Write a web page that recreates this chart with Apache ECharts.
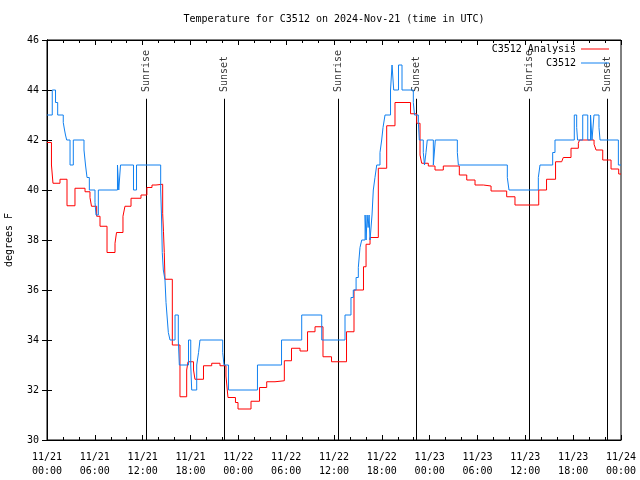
<!DOCTYPE html>
<html><head><meta charset="utf-8">
<script src="https://cdn.jsdelivr.net/npm/echarts@6/dist/echarts.min.js"></script>
<style>html,body{margin:0;padding:0;background:#fff}#c{width:640px;height:480px}</style>
</head><body><div id="c"></div>
<script>
const xTickLabels = ['11/21\n00:00','11/21\n06:00','11/21\n12:00','11/21\n18:00','11/22\n00:00','11/22\n06:00','11/22\n12:00','11/22\n18:00','11/23\n00:00','11/23\n06:00','11/23\n12:00','11/23\n18:00','11/24\n00:00'];

const analysisHours = [0,0.56,0.75,1.63,2.51,3.51,4.77,5.39,5.58,6.23,6.65,7.53,8.53,8.72,9.53,9.78,10.54,11.79,12.53,13.17,13.67,14.51,14.61,14.71,14.8,15.72,16.68,17.52,17.69,18.38,18.56,19.63,20.66,21.7,22.45,22.7,23.64,23.96,25.59,26.66,27.56,28.6,29.77,30.67,31.74,32.68,33.62,34.62,35.69,37.57,38.51,39.7,40.02,40.52,41.56,42.61,43.65,45.6,46.37,46.79,47.0,47.83,48.67,49.71,51.72,52.65,53.69,54.73,55.7,57.66,58.7,61.68,62.66,63.79,64.56,64.76,65.73,66.65,66.8,68.62,68.87,69.71,70.75,71.71,72];
const analysisTemps = [41.9,41.0,40.27,40.43,39.37,40.07,39.93,39.7,39.35,38.95,38.55,37.5,37.87,38.3,38.95,39.35,39.67,39.8,40.1,40.2,40.23,39.07,38.33,37.5,36.43,33.8,31.73,32.8,33.13,32.8,32.43,32.97,33.07,32.97,32.56,31.7,31.5,31.24,31.55,32.1,32.33,32.37,33.17,33.67,33.56,34.33,34.53,33.33,33.13,34.33,36.0,36.93,37.83,38.1,40.87,42.57,43.5,43.05,42.67,41.4,41.07,40.96,40.8,40.96,40.6,40.4,40.2,40.16,39.96,39.73,39.4,40.0,40.43,41.13,41.2,41.3,41.67,41.87,42.0,41.83,41.6,41.2,40.84,40.64,40.64];

const obsHours = [0,0.66,1.07,1.34,2.04,2.2,2.32,2.47,2.89,3.3,4.64,4.83,5.02,5.31,6.02,6.15,6.44,8.84,9.0,9.22,10.85,11.23,14.26,14.36,14.46,14.59,14.8,14.93,15.05,15.22,15.43,16.06,16.47,16.6,17.75,18.03,18.15,18.78,19.01,19.19,22.04,22.2,22.77,26.4,29.42,31.95,34.46,37.38,38.13,38.42,38.77,39.05,39.26,39.48,39.9,40.03,40.15,40.28,40.4,40.52,40.77,40.93,41.14,41.36,41.77,41.98,42.15,42.4,43.09,43.28,43.49,44.09,44.53,45.95,46.1,46.58,46.7,47.2,47.35,47.54,47.7,48.46,48.71,51.47,51.6,57.74,57.95,61.63,61.84,63.43,63.72,66.14,66.44,66.55,67.2,67.83,68.18,68.36,68.61,69.24,69.37,71.67,72];
const obsTemps = [43,44,43.5,43,42.7,42.4,42.2,42,41,42,41.6,41,40.5,40,39.5,39,40,41,40,41,40,41,40,39,37.5,36.8,36.4,35.5,35,34.3,34,35,34,33,34,33,32,33,33.5,34,33.5,33,32,33,34,35,34,35,35.7,36,36.5,36.9,37.7,38,39,38,39,38.5,39,38,39,40,40.5,41,41.5,42,42.5,43,44,45,44,45,44,43.5,43,42.7,42,41.5,41,41.5,42,41,42,41.5,41,40.5,40,40.5,41,41.5,42,43,42.5,42,43,42,43,42,43,42.5,42,41,41];

const sunHours = [12.46, 22.24, 36.54, 46.32, 60.5, 70.28];
const sunNames = ['Sunrise','Sunset','Sunrise','Sunset','Sunrise','Sunset'];

const FONT = "'DejaVu Sans Mono', monospace";
const Y_MIN = 30, Y_MAX = 46, SUN_TOP = 43.65, SUN_LABEL = 43.92;
const LEGEND_ICON = 'path://M0,0 L28,0 L28,1 L0,1 Z';

const zip = (a, b) => a.map((v, i) => [v, b[i]]);

const axisCommon = {
  axisLine: {show: true, lineStyle: {color: '#000', width: 1}},
  axisTick: {show: true, inside: true, length: 5, lineStyle: {color: '#000'}},
  splitLine: {show: false}
};

const chart = echarts.init(document.getElementById('c'), null, {renderer: 'canvas'});
chart.setOption({
  animation: false,
  backgroundColor: '#fff',
  title: {
    text: 'Temperature for C3512 on 2024-Nov-21 (time in UTC)',
    left: 334, top: 14, textAlign: 'center', padding: 0,
    textStyle: {fontFamily: FONT, fontSize: 10, fontWeight: 'normal', color: '#000'}
  },
  legend: {
    data: [{name: 'C3512 Analysis', icon: LEGEND_ICON}, {name: 'C3512', icon: LEGEND_ICON}],
    orient: 'vertical', right: 31, top: 44, padding: 0,
    align: 'right', itemWidth: 28, itemHeight: 10, itemGap: 4,
    textStyle: {fontFamily: FONT, fontSize: 10, color: '#000'}
  },
  grid: {left: 47, right: 19, top: 40, bottom: 40, show: true, borderColor: '#000', borderWidth: 1,
    containLabel: false, outerBoundsMode: 'none'},
  xAxis: [
    Object.assign({}, axisCommon, {
      type: 'value', min: 0, max: 72, interval: 6, position: 'bottom',
      minorTick: {show: true, splitNumber: 3, length: 3, lineStyle: {color: '#000'}},
      axisLabel: {formatter: v => xTickLabels[Math.round(v / 6)], fontFamily: FONT, fontSize: 10, color: '#000', margin: 10, lineHeight: 14}
    }),
    Object.assign({}, axisCommon, {
      type: 'value', min: 0, max: 72, interval: 6, position: 'top',
      minorTick: {show: true, splitNumber: 3, length: 3, lineStyle: {color: '#000'}},
      axisLabel: {show: false}
    })
  ],
  yAxis: [
    Object.assign({}, axisCommon, {
      type: 'value', min: Y_MIN, max: Y_MAX, interval: 2, position: 'left',
      name: 'degrees F', nameLocation: 'middle', nameRotate: 90, nameGap: 33,
      nameTextStyle: {fontFamily: FONT, fontSize: 10, color: '#000'},
      axisLabel: {fontFamily: FONT, fontSize: 10, color: '#000', margin: 8}
    }),
    Object.assign({}, axisCommon, {
      type: 'value', min: Y_MIN, max: Y_MAX, interval: 2, position: 'right',
      axisLabel: {show: false}
    })
  ],
  series: [
    {
      name: 'sunlines', type: 'lines', coordinateSystem: 'cartesian2d', xAxisIndex: 0, yAxisIndex: 0,
      silent: true,
      lineStyle: {color: '#000', width: 1, opacity: 1},
      data: sunHours.map(h => ({coords: [[h, Y_MIN], [h, SUN_TOP]]}))
    },
    {
      name: 'sunlabels', type: 'scatter', xAxisIndex: 0, yAxisIndex: 0,
      symbolSize: 0, silent: true,
      data: sunHours.map((h, i) => ({value: [h, SUN_LABEL], name: sunNames[i]})),
      label: {show: true, position: 'inside', rotate: 90, align: 'left', verticalAlign: 'middle',
        formatter: p => p.name, fontFamily: FONT, fontSize: 10, color: '#000'}
    },
    {
      name: 'C3512 Analysis', type: 'line', step: 'end', symbol: 'none',
      xAxisIndex: 0, yAxisIndex: 0,
      lineStyle: {color: '#ff0000', width: 1}, itemStyle: {color: '#ff0000'},
      data: zip(analysisHours, analysisTemps)
    },
    {
      name: 'C3512', type: 'line', step: 'end', symbol: 'none',
      xAxisIndex: 0, yAxisIndex: 0,
      lineStyle: {color: '#1080f0', width: 1}, itemStyle: {color: '#1080f0'},
      data: zip(obsHours, obsTemps)
    }
  ]
});
</script>
</body></html>
